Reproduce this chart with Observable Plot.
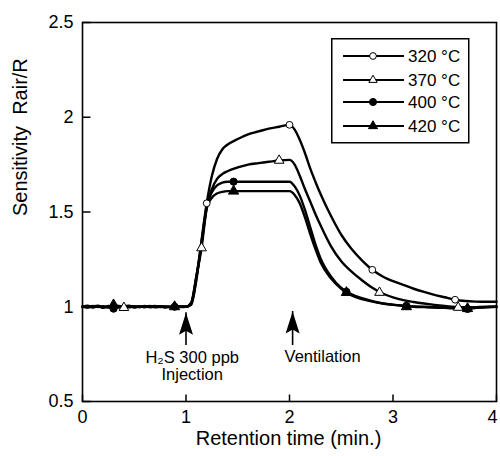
<!DOCTYPE html>
<html>
<head>
<meta charset="utf-8">
<script src="https://cdn.jsdelivr.net/npm/d3@7"></script>
<script src="https://cdn.jsdelivr.net/npm/@observablehq/plot@0.6"></script>
<style>
  body { margin: 0; background: #fff; }
  #wrap { position: relative; width: 500px; height: 456px; font-family: "Liberation Sans", Arial, sans-serif; }
  #legend { position: absolute; left: 331px; top: 38px; }
</style>
</head>
<body>
<div id="wrap"></div>
<script>
// ---- data ----
const time = [0,0.05,0.1,0.15,0.2,0.25,0.3,0.35,0.4,0.45,0.5,0.55,0.6,0.65,0.7,0.75,0.8,0.85,0.9,0.95,1.0,
  1.05,1.1,1.15,1.2,1.25,1.3,1.35,1.4,1.5,1.6,1.7,1.8,1.9,2.0,2.05,2.1,2.15,2.2,2.25,2.3,
  2.4,2.5,2.6,2.7,2.8,2.9,3.0,3.1,3.2,3.3,3.4,3.5,3.6,3.7,3.8,3.9,4.0];

const s320 = [1.0,1.005,0.998,1.003,0.997,1.004,1.0,0.996,1.002,1.005,0.999,1.003,0.998,1.002,1.004,0.999,1.001,0.997,1.002,1.0,1.0,
  1.01,1.14,1.35,1.546,1.69,1.78,1.83,1.855,1.885,1.91,1.925,1.94,1.95,1.96,1.935,1.88,1.81,1.73,1.66,1.595,
  1.48,1.38,1.305,1.245,1.195,1.16,1.135,1.115,1.095,1.078,1.063,1.05,1.037,1.03,1.027,1.026,1.026];
const s370 = [1.002,0.997,1.004,0.999,1.003,0.996,1.001,1.004,0.995,1.0,1.003,0.998,1.004,0.999,1.001,1.003,0.997,1.0,1.002,0.999,1.0,
  1.02,1.16,1.31,1.52,1.62,1.675,1.70,1.715,1.735,1.75,1.758,1.765,1.772,1.775,1.75,1.69,1.62,1.555,1.49,1.43,
  1.32,1.24,1.185,1.14,1.10,1.07,1.05,1.035,1.025,1.017,1.01,1.004,0.999,0.997,0.998,1.0,1.0];
const s400 = [0.998,1.003,0.996,1.002,0.995,1.001,0.99,1.0,1.004,0.997,1.002,0.999,1.003,0.998,1.0,1.003,0.997,1.001,1.0,1.002,1.0,
  1.02,1.16,1.34,1.53,1.605,1.64,1.655,1.66,1.66,1.66,1.66,1.66,1.66,1.66,1.635,1.585,1.51,1.42,1.33,1.255,
  1.16,1.10,1.065,1.045,1.03,1.018,1.011,1.006,1.002,1.0,0.997,0.995,0.992,0.99,0.995,0.998,1.0];
const s420 = [1.001,0.996,1.002,1.005,1.0,0.997,1.01,1.003,0.998,1.002,0.996,1.001,0.999,1.004,0.997,1.0,1.002,0.998,1.003,1.0,1.0,
  1.015,1.15,1.33,1.52,1.575,1.598,1.606,1.61,1.61,1.61,1.61,1.61,1.61,1.61,1.59,1.545,1.47,1.385,1.305,1.235,
  1.15,1.095,1.06,1.04,1.027,1.017,1.01,1.005,1.0,0.998,0.996,0.994,0.992,0.99,0.994,0.997,1.0];

// marker positions [time, value]
const m320 = [[1.2,1.546],[2.0,1.96],[2.8,1.195],[3.6,1.037]];
const m370 = [[0.4,0.995],[1.15,1.31],[1.9,1.772],[2.87,1.075],[3.63,0.996]];
const m400 = [[0.3,0.99],[0.89,1.0],[1.46,1.66],[2.55,1.079],[3.13,1.005],[3.72,0.988]];
const m420 = [[0.3,1.01],[0.89,1.0],[1.46,1.61],[2.55,1.075],[3.13,1.0],[3.72,0.99]];

const seriesNames = ["320 °C","370 °C","400 °C","420 °C"];
const xTicks = [0,1,2,3,4];
const yTicks = [0.5,1,1.5,2,2.5];
const yTickLabels = ["0.5","1","1.5","2","2.5"];

// annotations
const arrowX = [1.0, 2.03];
const arrowTip = [0.968, 0.975];
const arrowTail = [0.795, 0.795];
const noteText = ["H\u2082S 300 ppb", "Injection", "Ventilation"];
const noteX = [1.06, 1.06, 2.32];
const noteY = [0.733, 0.642, 0.737];

// ---- build tables ----
const allSeries = [s320, s370, s400, s420];
const lineData = allSeries.flatMap((s, i) => time.map((t, j) => ({t, v: s[j], name: seriesNames[i]})));
const toPts = m => m.map(([t, v]) => ({t, v}));

// custom symbols
const yTickSym = {draw(ctx) { ctx.moveTo(0, 0); ctx.lineTo(8, 0); }};
const xTickSym = {draw(ctx) { ctx.moveTo(0, 0); ctx.lineTo(0, -7); }};
const headSym = {draw(ctx) { ctx.moveTo(0, 0); ctx.lineTo(7, 22); ctx.lineTo(0, 18); ctx.lineTo(-7, 22); ctx.closePath(); }};

const arrows = arrowX.map((x, i) => ({x, tip: arrowTip[i], tail: arrowTail[i]}));
const notes = noteText.map((s, i) => ({s, x: noteX[i], y: noteY[i]}));

const chart = Plot.plot({
  width: 500,
  height: 456,
  marginLeft: 82,
  marginRight: 4,
  marginTop: 22,
  marginBottom: 55,
  style: {fontFamily: '"Liberation Sans", Arial, sans-serif', color: "#000", background: "#fff"},
  x: {domain: [0, 4]},
  y: {domain: [0.5, 2.5]},
  marks: [
    Plot.axisX(xTicks.slice(0, -1), {tickSize: 0, tickPadding: 9, fontSize: 18, label: null, tickFormat: d => String(d)}),
    Plot.axisX(xTicks.slice(-1), {tickSize: 0, tickPadding: 9, fontSize: 18, label: null, dx: -4, tickFormat: d => String(d)}),
    Plot.axisY({ticks: yTicks, tickSize: 0, tickPadding: 9, fontSize: 18, label: null, tickFormat: d => yTickLabels[yTicks.indexOf(d)]}),
    Plot.dot(xTicks, {x: d => d, y: () => 0.5, symbol: xTickSym, stroke: "#000", strokeWidth: 1.5, r: 4}),
    Plot.dot(yTicks, {x: () => 0, y: d => d, symbol: yTickSym, stroke: "#000", strokeWidth: 1.5, r: 4}),
    Plot.line(lineData, {x: "t", y: "v", z: "name", stroke: "#000", strokeWidth: 2.4, curve: "monotone-x"}),
    Plot.dot(toPts(m320), {x: "t", y: "v", symbol: "circle", r: 3.4, fill: "#fff", stroke: "#000", strokeWidth: 1}),
    Plot.dot(toPts(m370), {x: "t", y: "v", symbol: "triangle", r: 3.6, fill: "#fff", stroke: "#000", strokeWidth: 1}),
    Plot.dot(toPts(m400), {x: "t", y: "v", symbol: "circle", r: 3.6, fill: "#000", stroke: "#000", strokeWidth: 1}),
    Plot.dot(toPts(m420), {x: "t", y: "v", symbol: "triangle", r: 3.8, fill: "#000", stroke: "#000", strokeWidth: 1}),
    Plot.ruleX(arrows, {x: "x", y1: "tail", y2: "tip", stroke: "#000", strokeWidth: 1.6}),
    Plot.dot(arrows, {x: "x", y: "tip", symbol: headSym, r: 4, fill: "#000", stroke: "none"}),
    Plot.text(notes, {x: "x", y: "y", text: "s", fontSize: 16.5, fill: "#000"}),
    Plot.text(["Retention time (min.)"], {frameAnchor: "bottom", dy: 43, dx: -1, fontSize: 20, fill: "#000"}),
    Plot.text(["Sensitivity\u00a0 Rair/R"], {frameAnchor: "left", dx: -62, dy: 4, rotate: -90, fontSize: 20, fill: "#000"}),
    Plot.frame({stroke: "#000", strokeWidth: 1.6})
  ]
});

const wrap = document.getElementById("wrap");
wrap.appendChild(chart);

// legend (inside plot area, drawn as a small separate svg)
const legend = d3.select(wrap).append("svg")
  .attr("id", "legend")
  .attr("width", 140).attr("height", 107);
legend.append("rect").attr("x", 0.75).attr("y", 0.75).attr("width", 137).attr("height", 104)
  .attr("fill", "#fff").attr("stroke", "#000").attr("stroke-width", 1.5);
const legSym = [
  {type: d3.symbolCircle, fill: "#fff", size: 36},
  {type: d3.symbolTriangle, fill: "#fff", size: 30},
  {type: d3.symbolCircle, fill: "#000", size: 40},
  {type: d3.symbolTriangle, fill: "#000", size: 36}
];
const rowY = [18, 42, 64, 88];
seriesNames.forEach((name, i) => {
  const g = legend.append("g").attr("transform", `translate(0,${rowY[i]})`);
  g.append("line").attr("x1", 12).attr("x2", 73).attr("stroke", "#000").attr("stroke-width", 2);
  g.append("path").attr("d", d3.symbol(legSym[i].type, legSym[i].size)())
    .attr("transform", "translate(42,0)").attr("fill", legSym[i].fill).attr("stroke", "#000").attr("stroke-width", 1);
  g.append("text").attr("x", 77).attr("y", 0).attr("dy", "0.35em")
    .attr("font-size", 17).attr("font-family", '"Liberation Sans", Arial, sans-serif').text(name);
});
</script>
</body>
</html>
